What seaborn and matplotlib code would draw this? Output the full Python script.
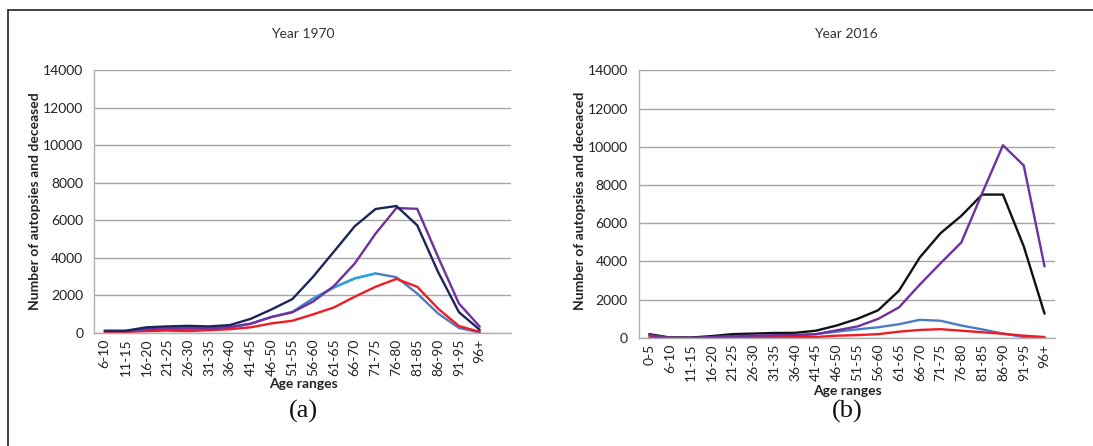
import numpy as np
import pandas as pd
import matplotlib
matplotlib.use("Agg")
import matplotlib.pyplot as plt
import seaborn as sns

# age categories
ages_1970 = ["6-10", "11-15", "16-20", "21-25", "26-30", "31-35", "36-40", "41-45",
             "46-50", "51-55", "56-60", "61-65", "66-70", "71-75", "76-80", "81-85",
             "86-90", "91-95", "96+"]
ages_2016 = ["0-5"] + ages_1970

# year 1970 series
navy_1970 = [120, 120, 300, 350, 380, 350, 420, 750, 1250, 1800, 2990, 4330, 5680,
             6600, 6760, 5730, 3250, 1110, 170]
purple_1970 = [100, 100, 200, 250, 250, 250, 320, 500, 850, 1100, 1670, 2500, 3700,
               5290, 6650, 6610, 4050, 1570, 340]
blue_1970 = [80, 80, 150, 200, 230, 230, 280, 480, 850, 1120, 1840, 2420, 2900,
             3170, 2970, 2100, 1040, 270, 30]
cyan_1970 = [np.nan] * 10 + [1800, 2430, 2910, 3170] + [np.nan] * 5
red_1970 = [50, 60, 100, 130, 100, 150, 200, 300, 510, 650, 990, 1360, 1930,
            2460, 2880, 2460, 1300, 370, 60]

# year 2016 series
black_2016 = [200, 20, 20, 100, 200, 230, 260, 270, 380, 650, 1000, 1450, 2470,
              4210, 5480, 6390, 7500, 7500, 4790, 1270]
purple_2016 = [150, 10, 10, 50, 100, 120, 140, 160, 200, 400, 600, 1000, 1600,
               2790, 3910, 5000, 7570, 10080, 9020, 3740]
blue_2016 = [150, 10, 10, 50, 80, 100, 110, 130, 200, 330, 450, 560, 720,
             950, 900, 650, 450, 230, 50, 10]
red_2016 = [50, 5, 5, 10, 30, 40, 40, 50, 50, 120, 150, 200, 330,
            420, 460, 380, 300, 220, 120, 50]


def long_form(ages, series):
    frames = []
    for name, vals in series:
        frames.append(pd.DataFrame({"pos": np.arange(len(ages)), "age": ages,
                                    "value": vals, "series": name}))
    return pd.concat(frames, ignore_index=True).dropna()


df70 = long_form(ages_1970, [("blue", blue_1970), ("cyan", cyan_1970), ("red", red_1970),
                             ("purple", purple_1970), ("navy", navy_1970)])
df16 = long_form(ages_2016, [("blue", blue_2016), ("red", red_2016),
                             ("black", black_2016), ("purple", purple_2016)])

palette = {"navy": "#1c2559", "purple": "#7030a0", "blue": "#4a7cc0",
           "cyan": "#2aa7e0", "red": "#ee1c24", "black": "#111111"}

sns.set_style("white")
plt.rcParams["font.family"] = ["Lato", "DejaVu Sans"]

fig = plt.figure(figsize=(10.93, 4.46), dpi=100)
ax1 = fig.add_axes([0.0863, 0.2534, 0.3812, 0.5897])
ax2 = fig.add_axes([0.5846, 0.2422, 0.3806, 0.6002])


def style_axis(ax, ages, nslots):
    ax.set_ylim(0, 14000)
    ax.set_yticks(np.arange(0, 14001, 2000))
    ax.set_xlim(-0.5, nslots - 0.5)
    ax.set_xticks(np.arange(len(ages)))
    ax.set_xticklabels(ages, rotation=90)
    ax.set_xticks(np.arange(nslots + 1) - 0.5, minor=True)
    ax.tick_params(axis="x", which="major", length=0, labelsize=10, pad=4, colors="#222222")
    ax.tick_params(axis="x", which="minor", length=5, width=0.9, color="#a0a0a0", direction="out")
    ax.tick_params(axis="y", length=5, width=0.9, color="#a0a0a0", labelsize=10,
                   labelcolor="#222222", pad=3)
    ax.yaxis.grid(True, color="#a6a6a6", linewidth=1.0)
    ax.xaxis.grid(False)
    ax.set_axisbelow(True)
    for s in ["top", "right"]:
        ax.spines[s].set_visible(False)
    for s in ["left", "bottom"]:
        ax.spines[s].set_color("#b0b0b0")
        ax.spines[s].set_linewidth(1.0)
    ax.set_xlabel("")
    ax.set_ylabel("")
    leg = ax.get_legend()
    if leg is not None:
        leg.remove()


sns.lineplot(data=df70, x="pos", y="value", hue="series", palette=palette,
             linewidth=1.7, ax=ax1)
sns.lineplot(data=df16, x="pos", y="value", hue="series", palette=palette,
             linewidth=1.7, ax=ax2)

# 1970 axis keeps an empty slot after 96+, 2016 axis does not
style_axis(ax1, ages_1970, len(ages_1970) + 1)
style_axis(ax2, ages_2016, len(ages_2016))

# titles, axis labels, panel letters
fig.text(0.2772, 0.9238, "Year 1970", ha="center", va="center", fontsize=10, color="#333333")
fig.text(0.774, 0.9238, "Year 2016", ha="center", va="center", fontsize=10, color="#333333")
fig.text(0.032, 0.549, "Number of autopsies and deceased", rotation=90, ha="center",
         va="center", fontsize=10, fontweight="bold", color="#222222")
fig.text(0.5307, 0.549, "Number of autopsies and deceaced", rotation=90, ha="center",
         va="center", fontsize=10, fontweight="bold", color="#222222")
fig.text(0.2772, 0.139, "Age ranges", ha="center", va="center", fontsize=10,
         fontweight="bold", color="#222222")
fig.text(0.775, 0.123, "Age ranges", ha="center", va="center", fontsize=10,
         fontweight="bold", color="#222222")
fig.text(0.2772, 0.0785, "(a)", ha="center", va="center", fontsize=19,
         family="Liberation Serif", color="#111111")
fig.text(0.775, 0.0765, "(b)", ha="center", va="center", fontsize=19,
         family="Liberation Serif", color="#111111")

# outer frame (top and left edges)
fig.add_artist(plt.Line2D([0.0073, 1.0], [0.978, 0.978], transform=fig.transFigure,
                          color="#333333", linewidth=1.3))
fig.add_artist(plt.Line2D([0.0073, 0.0073], [0.0, 0.978], transform=fig.transFigure,
                          color="#333333", linewidth=1.3))

fig.savefig("out.png", dpi=100)
